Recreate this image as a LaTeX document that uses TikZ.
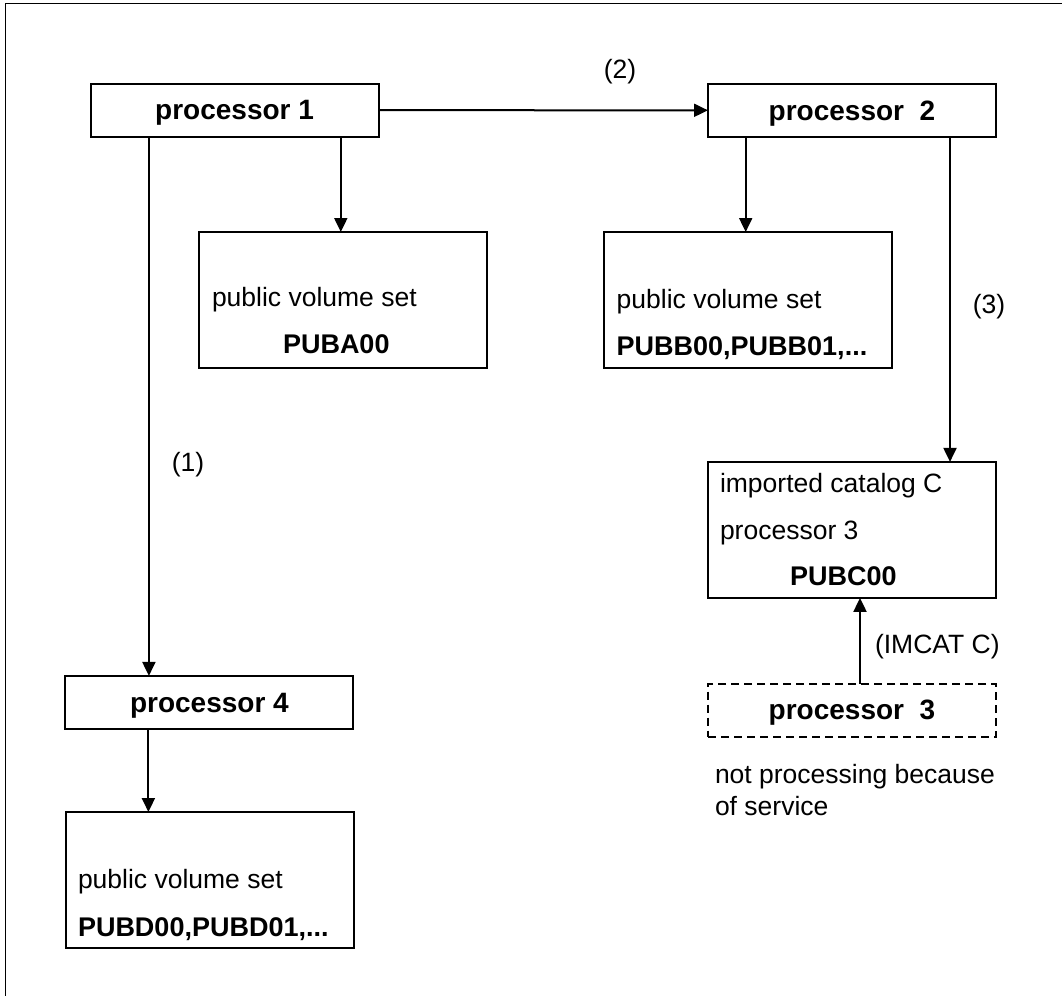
\documentclass[tikz,border=0pt]{standalone}
\usepackage{fontspec}
\setmainfont{Liberation Sans}
\usetikzlibrary{arrows.meta}
\begin{document}
\begin{tikzpicture}[x=1pt,y=-1pt,
  every node/.style={font=\fontsize{26.5}{32}\selectfont, inner sep=0pt, outer sep=0pt},
  procbox/.style={draw, line width=2pt, font=\fontsize{28}{34}\selectfont\bfseries,
                  text depth=0pt, minimum width=288pt, minimum height=53pt},
  offbox/.style={procbox, dash pattern=on 8pt off 5pt},
  volbox/.style={draw, line width=2pt, minimum width=288pt, minimum height=136pt},
  txt/.style={anchor=base west},
  btxt/.style={anchor=base west, font=\fontsize{27}{32}\selectfont\bfseries},
  arr/.style={line width=2pt, -{Triangle[length=14pt,width=13pt]}}]
\useasboundingbox (0,0) rectangle (1062,996);

% page frame (top and left edges)
\draw[line width=1pt] (1062,3.3) -- (5.7,3.3) -- (5.7,996);

% processors
\node[procbox] (p1) at (234.6,110.2) {processor 1};
\node[procbox] (p2) at (852,110.3) {processor\ \ 2};
\node[procbox] (p4) at (209.4,702.4) {processor 4};
\node[offbox]  (p3) at (852,710) {processor\ \ 3};

% volume sets and imported catalog
\node[volbox] (pubA) at (342.5,300) {};
\node[volbox] (pubB) at (748,300) {};
\node[volbox] (cat)  at (852,529.9) {};
\node[volbox] (pubD) at (209.5,880) {};

\node[txt]  (tA1) at (212,306.7) {public volume set};
\node[btxt] (tA2) at (283,353.3) {PUBA00};
\node[txt]  (tB1) at (616.7,308) {public volume set};
\node[btxt] (tB2) at (616.7,355) {PUBB00,PUBB01,...};
\node[txt]  (tD1) at (78,888) {public volume set};
\node[btxt] (tD2) at (78,936) {PUBD00,PUBD01,...};
\node[txt]  (tC1) at (720,492.3) {imported catalog C};
\node[txt]  (tC2) at (720,539) {processor 3};
\node[btxt] (tC3) at (790,585) {PUBC00};

\node[txt] (note1) at (715,783.3) {not processing because};
\node[txt] (note2) at (715,815) {of service};

% connectors
\draw[arr] (p1.east) -- (p2.west);
\draw[arr] ([xshift=58.3pt]p1.south west) -- ([xshift=58.3pt]p1.south west |- p4.north);
\draw[arr] ([xshift=-37.8pt]p1.south east) -- ([xshift=-37.8pt]p1.south east |- pubA.north);
\draw[arr] ([xshift=37.7pt]p2.south west) -- ([xshift=37.7pt]p2.south west |- pubB.north);
\draw[arr] ([xshift=-46pt]p2.south east) -- ([xshift=-46pt]p2.south east |- cat.north);
\draw[arr] ([xshift=8pt]p3.north) -- ([xshift=8pt]p3.north |- cat.south);
\draw[arr] ([xshift=83pt]p4.south west) -- ([xshift=83pt]p4.south west |- pubD.north);

% step labels
\node (l2) at (620,72) {(2)};
\node (l3) at (989,307) {(3)};
\node (l1) at (188,465) {(1)};
\node[txt] (lim) at (875,653) {(IMCAT C)};
\end{tikzpicture}
\end{document}
